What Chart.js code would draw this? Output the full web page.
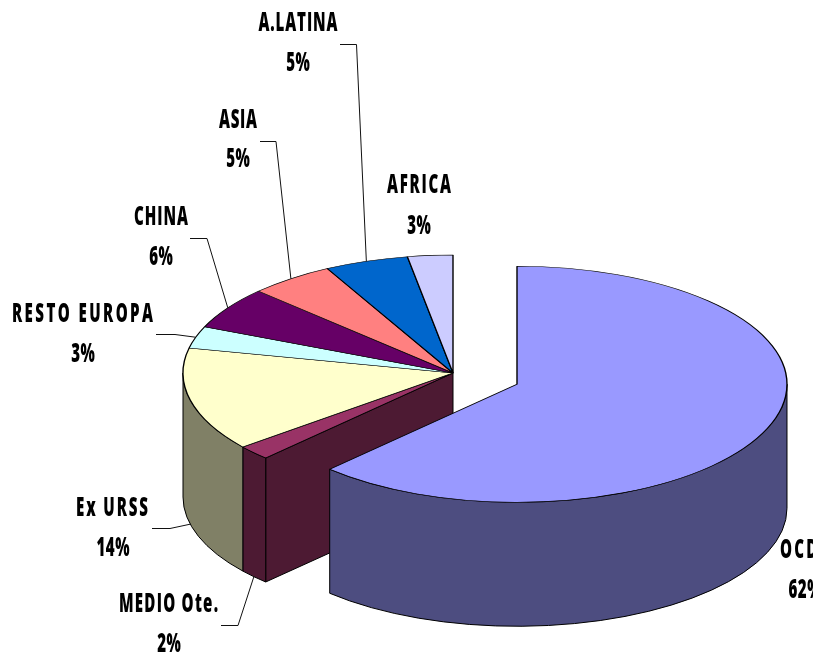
<!DOCTYPE html>
<html>
<head>
<meta charset="utf-8">
<style>html,body{margin:0;padding:0;background:#fff}canvas{display:block}</style>
<script src="https://cdn.jsdelivr.net/npm/chart.js@4"></script>
</head>
<body>
<canvas id="c" width="813" height="655"></canvas>
<script>
const categories = ['OCDE','MEDIO Ote.','Ex URSS','RESTO EUROPA','CHINA','ASIA','A.LATINA','AFRICA'];
const shares = [62.2,2.0,14.2,3.0,5.8,5.1,5.0,2.7];
const percentLabels = ['62%','2%','14%','3%','6%','5%','5%','3%'];
const topColors = ['#9999FF','#993366','#FFFFCC','#CCFFFF','#660066','#FF8080','#0066CC','#CCCCFF'];
const wallColors = ['#4D4D80','#4D1A33','#808066','#668080','#330033','#804040','#003366','#666680'];
const explode = [69,0,0,0,0,0,0,0];

const SQUASH = 118/270, DEPTH = 124, RADIUS = 270, TEXT_DY = 2;
// text layout: centre x, name y, name width, percent centre x, percent y
const labelLayout = [
  {x:804,y:549,w:48,px:805,py:589,elbow:null},
  {x:168.5,y:603,w:99,px:169,py:643,elbow:[[221,625.5],[238,625.5]]},
  {x:112,y:507,w:72,px:113,py:547,elbow:[[152,528.5],[170,528.5]]},
  {x:82.5,y:313,w:141,px:83,py:353,elbow:[[156,334.5],[175,334.5]]},
  {x:161,y:216,w:54,px:161,py:256,elbow:[[190,238.5],[207,238.5]]},
  {x:238,y:119,w:38,px:238,py:158,elbow:[[260,141.5],[276,141.5]]},
  {x:298,y:22,w:79,px:298,py:62,elbow:[[340,44.5],[356.5,44.5]]},
  {x:419,y:184,w:64,px:419,py:225,elbow:null}
];
const TEXT_SX = 0.58, FONT = "800 26px 'Open Sans', 'Liberation Sans', sans-serif";

function geom(chart){
  const meta = chart.getDatasetMeta(0);
  return meta.data.map((el,i)=>{
    const p = el.getProps(['x','y','startAngle','endAngle','outerRadius'],true);
    const half = (p.startAngle+p.endAngle)/2;
    const off = explode[i];
    return {a0:p.startAngle,a1:p.endAngle,half,r:p.outerRadius,off,
      cx:p.x+Math.cos(half)*off, cy:p.y+Math.sin(half)*off*SQUASH};
  });
}
function wall(ctx,g,color){
  const lo=Math.max(g.a0,0), hi=Math.min(g.a1,Math.PI);
  if(lo>=hi) return;
  ctx.beginPath();
  ctx.ellipse(g.cx,g.cy,g.r,g.r*SQUASH,0,lo,hi);
  ctx.ellipse(g.cx,g.cy+DEPTH,g.r,g.r*SQUASH,0,hi,lo,true);
  ctx.closePath();
  ctx.fillStyle=color; ctx.fill(); ctx.stroke();
}
function face(ctx,g,a,color){
  const x=g.cx+Math.cos(a)*g.r, y=g.cy+Math.sin(a)*g.r*SQUASH;
  ctx.beginPath();
  ctx.moveTo(g.cx,g.cy);ctx.lineTo(x,y);ctx.lineTo(x,y+DEPTH);ctx.lineTo(g.cx,g.cy+DEPTH);
  ctx.closePath();
  ctx.fillStyle=color; ctx.fill(); ctx.stroke();
}
const pie3d = {
  id:'pie3d',
  afterDatasetUpdate(chart){
    // pull a slice out of the pie by shifting its arc along its middle angle
    chart.getDatasetMeta(0).data.forEach((el,i)=>{
      if(!explode[i] || el.$moved) return;
      el.$moved = true;
      const draw = el.draw;
      el.draw = function(ctx,area){
        const half=(this.startAngle+this.endAngle)/2;
        ctx.save();
        ctx.translate(Math.cos(half)*explode[i],Math.sin(half)*explode[i]);
        draw.call(this,ctx,area);
        ctx.restore();
      };
    });
  },
  beforeDatasetDraw(chart){
    const ctx=chart.ctx, gs=geom(chart), n=gs.length;
    ctx.save();
    ctx.lineWidth=1; ctx.strokeStyle='#000'; ctx.lineJoin='round';
    const order=gs.map((g,i)=>i).sort((a,b)=>gs[a].off-gs[b].off);
    order.forEach(i=>{
      const g=gs[i], prev=gs[(i+n-1)%n], next=gs[(i+1)%n];
      if((prev.off!==g.off) && -Math.cos(g.a0)>1e-6) face(ctx,g,g.a0,wallColors[i]);
      if((next.off!==g.off) && Math.cos(g.a1)>1e-6) face(ctx,g,g.a1,wallColors[i]);
      wall(ctx,g,wallColors[i]);
    });
    ctx.restore();
    const c=chart.getDatasetMeta(0).data[0];
    ctx.save();
    ctx.translate(c.x,c.y); ctx.scale(1,SQUASH); ctx.translate(-c.x,-c.y);
  },
  afterDatasetDraw(chart){ chart.ctx.restore(); },
  afterDraw(chart){
    const ctx=chart.ctx, gs=geom(chart);
    ctx.save();
    ctx.strokeStyle='#111'; ctx.lineWidth=1;
    labelLayout.forEach((l,i)=>{
      if(!l.elbow) return;
      const g=gs[i];
      const lower=Math.sin(g.half)>0;
      const ex=g.cx+Math.cos(g.half)*g.r, ey=g.cy+Math.sin(g.half)*g.r*SQUASH+(lower?DEPTH:0);
      ctx.beginPath();
      ctx.moveTo(l.elbow[0][0],l.elbow[0][1]);
      ctx.lineTo(l.elbow[1][0],l.elbow[1][1]);
      ctx.lineTo(ex,ey);
      ctx.stroke();
    });
    ctx.fillStyle='#000'; ctx.textAlign='left'; ctx.textBaseline='middle'; ctx.font=FONT;
    const put=(t,cx,y,w)=>{
      ctx.save();
      ctx.letterSpacing='0px';
      const nat=ctx.measureText(t).width*TEXT_SX;
      const sp=w?(w-nat)/(t.length-1):0.6;
      ctx.letterSpacing=(sp/TEXT_SX)+'px';
      const total=w||nat+sp*(t.length-1);
      ctx.translate(cx-total/2,y+TEXT_DY); ctx.scale(TEXT_SX,1);
      ctx.fillText(t,0,0);
      ctx.restore();
    };
    labelLayout.forEach((l,i)=>{
      put(categories[i],l.x,l.y,l.w);
      put(percentLabels[i],l.px,l.py,0);
    });
    ctx.restore();
  }
};
new Chart(document.getElementById('c'),{
  type:'pie',
  data:{labels:categories,datasets:[{
    data:shares,backgroundColor:topColors,borderColor:'#000',borderWidth:1.4,
    hoverOffset:0,clip:false
  }]},
  options:{
    responsive:false,animation:false,radius:RADIUS,
    layout:{padding:{left:93,top:91}},
    plugins:{legend:{display:false},tooltip:{enabled:false}}
  },
  plugins:[pie3d]
});
</script>
</body>
</html>
